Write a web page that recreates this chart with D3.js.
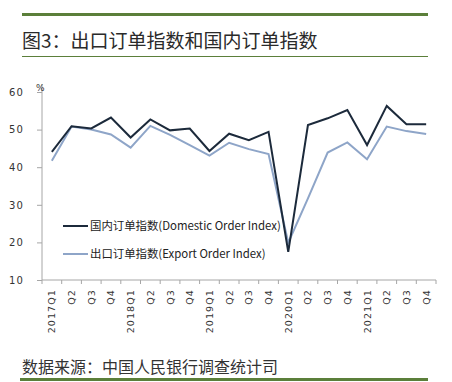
<!DOCTYPE html>
<html><head><meta charset="utf-8">
<script src="https://cdn.jsdelivr.net/npm/d3@7"></script>
<style>body{margin:0;background:#fff;}svg{display:block;}</style>
</head><body>
<svg id="c" width="452" height="382"></svg>
<script>
const categories = ["2017Q1","Q2","Q3","Q4","2018Q1","Q2","Q3","Q4","2019Q1","Q2","Q3","Q4","2020Q1","Q2","Q3","Q4","2021Q1","Q2","Q3","Q4"];
const domestic = [44.1,50.9,50.3,53.2,47.9,52.7,49.8,50.3,44.3,48.9,47.2,49.4,17.5,51.2,53.0,55.2,45.9,56.3,51.4,51.4];
const exportIdx = [41.7,50.8,50.0,48.7,45.2,51.0,48.6,45.9,43.1,46.5,44.8,43.5,19.9,31.7,43.9,46.6,42.1,50.8,49.6,48.8];
const yTicks = [10,20,30,40,50,60];
const seriesNames = ["国内订单指数(Domestic Order Index)","出口订单指数(Export Order Index)"];
const titleText = "图3：出口订单指数和国内订单指数";
const sourceText = "数据来源：中国人民银行调查统计司";

const svg = d3.select("#c");
const green = "#5b7f3a";
const font = "'Noto Sans CJK SC','Liberation Sans',sans-serif";

svg.append("rect").attr("x",22).attr("y",13).attr("width",406).attr("height",3).attr("fill",green);
svg.append("text").attr("x",22).attr("y",48).attr("font-family",font).attr("font-size",19).attr("fill","#2a2a2a").text(titleText);
svg.append("rect").attr("x",22).attr("y",56).attr("width",406).attr("height",1).attr("fill",green);
svg.append("text").attr("x",22).attr("y",373).attr("font-family",font).attr("font-size",16).attr("fill","#333").text(sourceText);
svg.append("rect").attr("x",20).attr("y",378).attr("width",408).attr("height",3).attr("fill",green);

const pL = 42, pR = 436, pT = 92, pB = 280;
const x = d3.scaleBand().domain(d3.range(categories.length)).range([pL,pR]);
const y = d3.scaleLinear().domain([10,60]).range([pB,pT]);

const g = svg.append("g");
// y axis
const ya = g.append("g").attr("transform",`translate(${pL},0)`)
  .call(d3.axisLeft(y).tickValues(yTicks).tickSize(5).tickPadding(13));
ya.selectAll("path,line").attr("stroke","#a6a6a6");
ya.selectAll("text").attr("font-family","'DejaVu Sans',sans-serif").attr("font-size",10).attr("letter-spacing",1.2).attr("fill","#333");
ya.select(".domain").attr("d",`M0,${pB}V${pT-8}`);
g.append("text").attr("x",pL-6).attr("y",pT-1).attr("font-family","'DejaVu Sans',sans-serif").attr("font-size",9).attr("fill","#333").text("%");

// x axis
const xa = g.append("g").attr("transform",`translate(0,${pB})`);
xa.append("line").attr("x1",pL).attr("x2",pR).attr("stroke","#a6a6a6");
xa.selectAll("line.t").data(d3.range(categories.length+1)).enter().append("line")
  .attr("x1",i=>pL+i*x.step()).attr("x2",i=>pL+i*x.step()).attr("y1",0).attr("y2",4).attr("stroke","#a6a6a6");
xa.selectAll("text").data(categories).enter().append("text")
  .attr("transform",(d,i)=>`translate(${x(i)+x.bandwidth()/2+3.5},9) rotate(-90)`)
  .attr("text-anchor","end").attr("font-family","'DejaVu Sans',sans-serif").attr("font-size",9.5).attr("letter-spacing",1.1).attr("fill","#333")
  .text(d=>d);

const line = d3.line().x((d,i)=>x(i)+x.bandwidth()/2).y(d=>y(d));
g.append("path").datum(exportIdx).attr("d",line).attr("fill","none").attr("stroke","#8ea5c8").attr("stroke-width",2);
g.append("path").datum(domestic).attr("d",line).attr("fill","none").attr("stroke","#1c2a3b").attr("stroke-width",2);

// legend
const lg = [{c:"#1c2a3b",y:226,t:seriesNames[0]},{c:"#8ea5c8",y:254,t:seriesNames[1]}];
lg.forEach(l=>{
  g.append("line").attr("x1",63).attr("x2",88).attr("y1",l.y).attr("y2",l.y).attr("stroke",l.c).attr("stroke-width",2);
  g.append("text").attr("x",90).attr("y",l.y+4).attr("font-family",font).attr("font-size",11.4).attr("fill","#222").text(l.t);
});
</script>
</body></html>
